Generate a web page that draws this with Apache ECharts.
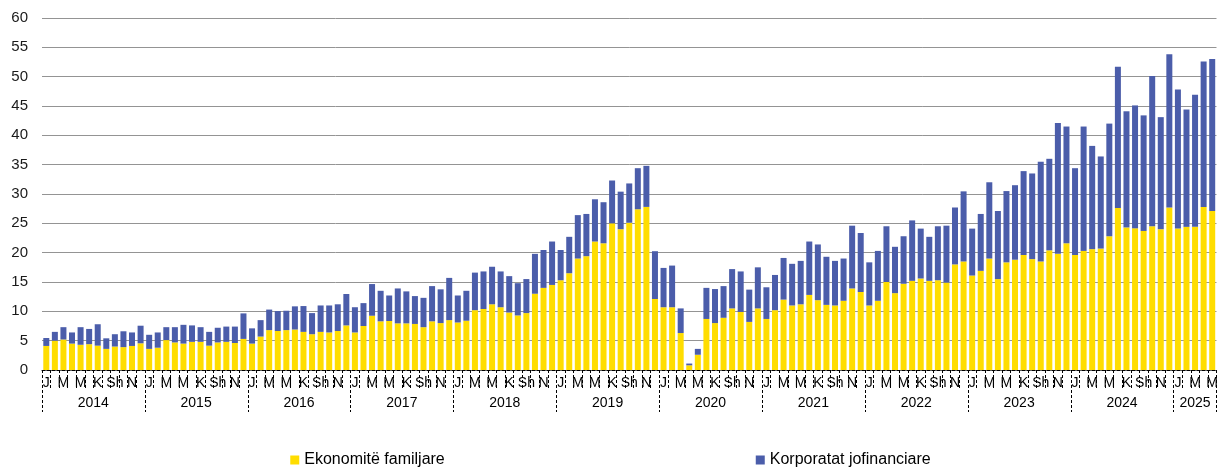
<!DOCTYPE html>
<html lang="sq">
<head>
    <meta charset="UTF-8">
    <title>Kreditë e reja</title>
    <script src="https://cdn.jsdelivr.net/npm/echarts@6.0.0/dist/echarts.min.js"></script>
    <style>
        html, body { margin: 0; padding: 0; background: #fff; }
        #main { width: 1221px; height: 468px; }
    </style>
</head>
<body>
<div id="main"></div>

<script>
    // vitet dhe muajt (shkronja e pare e muajit ne shqip)
    var years = ['2014', '2015', '2016', '2017', '2018', '2019', '2020', '2021', '2022', '2023', '2024', '2025'];
    var monthsPerYear = [12, 12, 12, 12, 12, 12, 12, 12, 12, 12, 12, 5];
    var monthLetters = ['J', 'Sh', 'M', 'P', 'M', 'Q', 'K', 'G', 'Sh', 'T', 'N', 'D'];

    var yTicks = { min: 0, max: 60, step: 5 };

    // Ekonomitë familjare
    var households = [
        4.1, 5.0, 5.2, 4.5, 4.3, 4.4, 4.15, 3.6, 4.0, 3.9, 4.1, 4.55,
        3.6, 3.8, 5.1, 4.7, 4.5, 4.8, 4.8, 4.15, 4.7, 4.8, 4.6, 5.3,
        4.5, 5.7, 6.8, 6.65, 6.8, 6.9, 6.5, 6.1, 6.5, 6.4, 6.65, 7.6,
        6.4, 7.5, 9.25, 8.3, 8.35, 7.95, 7.95, 7.85, 7.3, 8.3, 8.0, 8.5,
        8.1, 8.4, 10.2, 10.4, 11.2, 10.7, 9.8, 9.3, 9.7, 13.0, 14.0, 14.5,
        15.3, 16.5, 19.0, 19.4, 21.9, 21.6, 25.0, 24.0, 25.1, 27.4, 27.8, 12.1,
        10.7, 10.7, 6.3, 0.8, 2.6, 8.7, 8.0, 8.9, 10.5, 9.9, 8.2, 10.5,
        8.7, 10.2, 12.0, 11.0, 11.2, 12.8, 11.9, 11.1, 11.0, 11.8, 13.9, 13.3,
        11.0, 11.8, 15.0, 13.1, 14.7, 15.2, 15.6, 15.2, 15.3, 14.9, 18.0, 18.5,
        16.1, 16.9, 19.0, 15.5, 18.35, 18.8, 19.6, 18.9, 18.5, 20.4, 19.8, 21.6,
        19.6, 20.3, 20.6, 20.7, 22.8, 27.6, 24.3, 24.15, 23.7, 24.5, 24.0, 27.7,
        24.1, 24.4, 24.4, 27.8, 27.1
    ];

    // Korporatat jofinanciare
    var corporates = [
        1.35, 1.5, 2.1, 1.9, 3.0, 2.6, 3.65, 1.8, 2.1, 2.7, 2.3, 3.0,
        2.4, 2.6, 2.2, 2.6, 3.2, 2.8, 2.5, 2.35, 2.5, 2.6, 2.8, 4.35,
        2.6, 2.8, 3.5, 3.4, 3.3, 3.95, 4.4, 3.6, 4.5, 4.6, 4.55, 5.35,
        4.3, 3.9, 5.4, 5.2, 4.35, 5.95, 5.45, 4.75, 5.0, 6.0, 5.75, 7.2,
        4.6, 5.1, 6.4, 6.4, 6.4, 6.1, 6.2, 5.5, 5.8, 6.8, 6.45, 7.4,
        5.15, 6.2, 7.4, 7.2, 7.2, 7.0, 7.3, 6.4, 6.7, 7.0, 7.0, 8.15,
        6.7, 7.1, 4.2, 0.3, 1.0, 5.3, 5.8, 5.4, 6.7, 6.9, 5.5, 7.0,
        5.4, 6.0, 7.1, 7.1, 7.4, 9.1, 9.5, 8.2, 7.6, 7.2, 10.7, 10.05,
        7.35, 8.5, 9.5, 7.9, 8.1, 10.3, 8.5, 7.5, 9.2, 9.7, 9.7, 11.95,
        8.0, 9.7, 13.0, 11.6, 12.15, 12.7, 14.3, 14.6, 17.0, 15.6, 22.3, 19.9,
        14.8, 21.2, 17.6, 15.7, 19.2, 24.1, 19.8, 20.95, 19.7, 25.6, 19.1, 26.1,
        23.7, 20.0, 22.5, 24.8, 25.9
    ];

    // kategorite: nje per cdo muaj
    var categories = [];
    var monthIdx = [];
    var yearLabelAt = {};
    for (var y = 0; y < years.length; y++) {
        var n = monthsPerYear[y];
        for (var m = 0; m < n; m++) {
            if (m === Math.floor(n / 2)) yearLabelAt[categories.length] = y;
            categories.push(years[y] + '-' + (m + 1));
            monthIdx.push(m);
        }
    }

    var font = 'Liberation Sans, Arial, sans-serif';
    var dash = { color: '#000', width: 1, type: [3, 2] };

    var myChart = echarts.init(document.getElementById('main'));

    var option = {
        animation: false,
        textStyle: { fontFamily: font },
        grid: { left: 42, right: -5, top: 18, bottom: 98, containLabel: false },
        legend: {
            left: 'center',
            top: 447,
            itemWidth: 9,
            itemHeight: 9,
            itemGap: 311,
            icon: 'rect',
            textStyle: { fontSize: 16, color: '#000', fontFamily: font },
            data: ['Ekonomitë familjare', 'Korporatat jofinanciare']
        },
        xAxis: [
            {
                type: 'category',
                data: categories,
                position: 'bottom',
                offset: 0,
                axisLine: { show: true, lineStyle: dash },
                axisTick: { show: true, interval: 0, length: 20, lineStyle: dash },
                axisLabel: {
                    interval: 1,
                    margin: 6,
                    fontSize: 14,
                    color: '#000',
                    fontFamily: font,
                    formatter: function (v, i) { return monthLetters[monthIdx[i]]; }
                }
            },
            {
                type: 'category',
                data: categories,
                position: 'bottom',
                offset: 0,
                axisLine: { show: false },
                axisTick: {
                    show: true,
                    length: 42,
                    lineStyle: dash,
                    interval: function (i) { return monthIdx[i] === 0; }
                },
                axisLabel: {
                    interval: 0,
                    margin: 26,
                    fontSize: 14,
                    color: '#000',
                    fontFamily: font,
                    formatter: function (v, i) {
                        if (yearLabelAt[i] === undefined) return '';
                        var yy = yearLabelAt[i];
                        // per vitet e plota etiketa shkon ne mes te vitit
                        return monthsPerYear[yy] % 2 === 0 ? '{s|' + years[yy] + '}' : '{c|' + years[yy] + '}';
                    },
                    rich: {
                        s: { fontSize: 14, color: '#000', fontFamily: font, padding: [0, 9, 0, 0] },
                        c: { fontSize: 14, color: '#000', fontFamily: font }
                    }
                }
            }
        ],
        yAxis: {
            type: 'value',
            min: yTicks.min,
            max: yTicks.max,
            interval: yTicks.step,
            axisLine: { show: false },
            axisTick: { show: false },
            axisLabel: { fontSize: 15, color: '#1a1a1a', margin: 14, fontFamily: font },
            splitLine: { lineStyle: { color: '#949494', width: 1 } }
        },
        series: [
            {
                name: 'Ekonomitë familjare',
                type: 'bar',
                stack: 'total',
                barCategoryGap: '30%',
                itemStyle: { color: '#FFDD00' },
                data: households
            },
            {
                name: 'Korporatat jofinanciare',
                type: 'bar',
                stack: 'total',
                barCategoryGap: '30%',
                itemStyle: { color: '#4B5DAA' },
                data: corporates
            }
        ]
    };

    myChart.setOption(option);
</script>
</body>
</html>
